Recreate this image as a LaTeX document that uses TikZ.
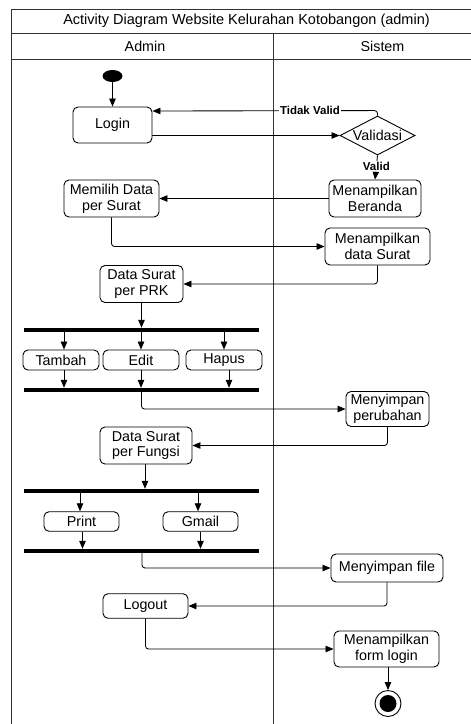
\documentclass[tikz,border=0pt]{standalone}
\usepackage{fontspec}
\setmainfont{Liberation Sans}
\usetikzlibrary{arrows.meta,shapes.geometric}
\begin{document}
\begin{tikzpicture}[x=1pt,y=-1pt,
  act/.style={draw, rounded corners=5pt, line width=0.9pt, inner sep=0pt,
    align=center, font=\fontsize{14.3}{15.8}\selectfont},
  arr/.style={-{Triangle[length=8pt,width=6.5pt]}, line width=0.85pt, rounded corners=3pt},
  syncbar/.style={fill=black, inner sep=0pt, minimum width=235pt, minimum height=4pt},
  guard/.style={font=\bfseries\fontsize{11.5}{13}\selectfont, inner sep=1pt, fill=white},
  lane/.style={line width=1pt, draw=black!80}]
\useasboundingbox (0,0) rectangle (471,724);

% swimlane frame
\begin{scope}
  \clip (0,0) rectangle (471,724);
  \draw[lane] (11,9) rectangle (487,740);
  \draw[lane] (11,33.5) -- (487,33.5);
  \draw[lane] (11,59) -- (487,59);
  \draw[lane] (273,33.5) -- (273,740);
\end{scope}
\node[font=\fontsize{14.5}{16}\selectfont] (title) at (246.5,21) {Activity Diagram Website Kelurahan Kotobangon (admin)};
\node[font=\fontsize{14.3}{16}\selectfont] (hadmin) at (145,46.5) {Admin};
\node[font=\fontsize{14.3}{16}\selectfont] (hsistem) at (382.5,46.5) {Sistem};

% activities
\node[fill=black, ellipse, minimum width=20pt, minimum height=12pt, inner sep=0pt] (start) at (112.5,76) {};
\node[act, minimum width=79pt, minimum height=36pt] (login) at (112.5,125) {Login};
\node[draw, diamond, aspect=1.92, line width=0.9pt, inner sep=0pt, minimum width=75pt, minimum height=39pt,
      font=\fontsize{14.3}{15.8}\selectfont] (valid) at (377.5,135.5) {Validasi};
\node[act, minimum width=92pt, minimum height=37pt] (beranda) at (375,198.5) {Menampilkan\\Beranda};
\node[act, minimum width=95pt, minimum height=37pt] (memilih) at (111.5,198.5) {Memilih Data\\per Surat};
\node[act, minimum width=105pt, minimum height=37pt] (dsurat) at (377.5,246.5) {Menampilkan\\data Surat};
\node[act, minimum width=83pt, minimum height=37pt] (prk) at (141.5,284) {Data Surat\\per PRK};
\node[syncbar] (bar1) at (141.5,330) {};
\node[act, minimum width=76pt, minimum height=20pt] (tambah) at (61,360) {Tambah};
\node[act, minimum width=76pt, minimum height=20pt] (edit) at (141,360) {Edit};
\node[act, minimum width=76pt, minimum height=20pt] (hapus) at (224,360) {Hapus};
\node[syncbar] (bar2) at (141.5,390) {};
\node[act, minimum width=83pt, minimum height=35pt] (ubah) at (387.5,409) {Menyimpan\\perubahan};
\node[act, minimum width=92pt, minimum height=37pt] (fungsi) at (146,445.5) {Data Surat\\per Fungsi};
\node[syncbar] (bar3) at (141.5,491) {};
\node[act, minimum width=75pt, minimum height=19.5pt] (print) at (81.5,521.5) {Print};
\node[act, minimum width=75pt, minimum height=19.5pt] (gmail) at (200.5,521.5) {Gmail};
\node[syncbar] (bar4) at (141.5,551) {};
\node[act, minimum width=112pt, minimum height=28pt] (sfile) at (387,568) {Menyimpan file};
\node[act, minimum width=85pt, minimum height=24.5pt] (logout) at (145.5,606) {Logout};
\node[act, minimum width=105pt, minimum height=36pt] (flogin) at (386.5,649) {Menampilkan\\form login};
\node[draw, circle, line width=0.9pt, minimum size=26pt, inner sep=0pt] (end) at (388,703.5) {};
\node[fill=black, circle, minimum size=17pt, inner sep=0pt] (endin) at (end.center) {};

% flows
\draw[arr] (start) -- (login);
\draw[arr] (login.east |- valid) -- (valid.west);
\draw[arr] (valid.north) -- ++(0,-5) -- (login.east |- 0,111)
  node[guard, pos=0.3] (gtv) {Tidak Valid};
\draw[arr] (valid.south) -- (beranda.north) node[guard, pos=0.45] (gv) {Valid};
\draw[arr] (beranda.west) -- (memilih.east);
\draw[arr] (memilih.south) |- (dsurat.west);
\draw[arr] (dsurat.south) |- (prk.east);
\draw[arr] (prk.south) -- (bar1.north -| prk.south);
\draw[arr] (bar1.south -| 64,0) -- (tambah.north -| 64,0);
\draw[arr] (bar1.south -| edit.north) -- (edit.north);
\draw[arr] (bar1.south -| hapus.north) -- (hapus.north);
\draw[arr] (tambah.south -| 64,0) -- (bar2.north -| 64,0);
\draw[arr] (edit.south) -- (bar2.north -| edit.south);
\draw[arr] (hapus.south -| 229,0) -- (bar2.north -| 229,0);
\draw[arr] (bar2.south -| 141.5,0) |- (ubah.west);
\draw[arr] (ubah.south) |- (fungsi.east);
\draw[arr] (fungsi.south -| 145,0) -- (bar3.north -| 145,0);
\draw[arr] (bar3.south -| 80,0) -- (print.north -| 80,0);
\draw[arr] (bar3.south -| 198,0) -- (gmail.north -| 198,0);
\draw[arr] (print.south -| 82.5,0) -- (bar4.north -| 82.5,0);
\draw[arr] (gmail.south -| 200.5,0) -- (bar4.north -| 200.5,0);
\draw[arr] (bar4.south -| 142,0) |- (sfile.west);
\draw[arr] (sfile.south) |- (logout.east);
\draw[arr] (logout.south) |- (flogin.west);
\draw[arr] (flogin.south -| end.north) -- (end.north);
\end{tikzpicture}
\end{document}
